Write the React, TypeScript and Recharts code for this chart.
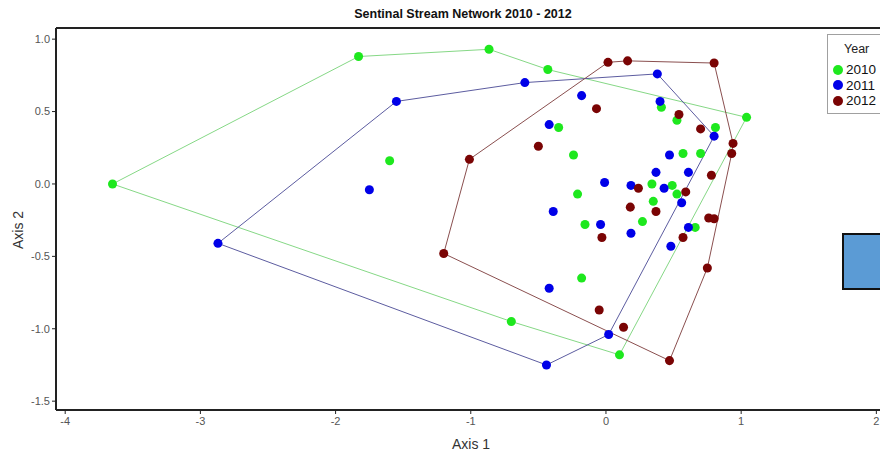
import React from 'react';
import { ScatterChart, Scatter, XAxis, YAxis, ZAxis, ReferenceLine } from 'recharts';

// NMS scores (Axis 1 / Axis 2), one pair of arrays per year
const years = ['2010', '2011', '2012'];

const axis1_2010 = [-3.65, -1.83, -0.865, -0.43, 1.04, -1.6, -0.35, -0.24, 0.41, 0.525, 0.81, 0.57, 0.7, 0.34, 0.49, 0.525, 0.35, -0.21, 0.27, -0.155, 0.66, -0.18, -0.7, 0.1];
const axis2_2010 = [0.0, 0.88, 0.93, 0.79, 0.46, 0.16, 0.39, 0.2, 0.53, 0.44, 0.39, 0.21, 0.21, 0.0, -0.01, -0.07, -0.12, -0.07, -0.26, -0.28, -0.3, -0.65, -0.95, -1.18];

const axis1_2011 = [-2.87, -1.55, -0.6, 0.38, 0.8, -1.75, -0.18, -0.42, 0.4, 0.47, 0.37, 0.61, -0.01, 0.185, 0.43, 0.56, -0.39, -0.04, 0.185, 0.61, 0.48, -0.42, 0.02, -0.44];
const axis2_2011 = [-0.41, 0.57, 0.7, 0.76, 0.33, -0.04, 0.61, 0.41, 0.57, 0.2, 0.08, 0.08, 0.01, -0.01, -0.03, -0.13, -0.19, -0.28, -0.34, -0.3, -0.43, -0.72, -1.04, -1.25];

const axis1_2012 = [-1.01, 0.015, 0.16, 0.8, 0.94, 0.93, 0.75, 0.47, -1.2, -0.07, -0.5, 0.54, 0.7, 0.78, 0.24, 0.59, 0.18, 0.37, -0.03, 0.76, 0.8, 0.57, -0.05, 0.13];
const axis2_2012 = [0.17, 0.84, 0.85, 0.835, 0.28, 0.21, -0.58, -1.22, -0.48, 0.52, 0.26, 0.48, 0.38, 0.06, -0.03, -0.055, -0.16, -0.19, -0.37, -0.235, -0.24, -0.37, -0.87, -0.99];

// convex hull vertices (indices into the arrays above), closed
const hull2010 = [0, 1, 2, 3, 4, 23, 22, 0];
const hull2011 = [0, 1, 2, 3, 4, 22, 23, 0];
const hull2012 = [0, 1, 2, 3, 4, 5, 6, 7, 8, 0];

const xTicks = [-4, -3, -2, -1, 0, 1, 2];
const yTicks = [1.0, 0.5, 0.0, -0.5, -1.0, -1.5];
const xDomain = [-4.068, 2.027];
const yDomain = [-1.561, 1.077];

const pointColors = ['#1ee81e', '#0000e8', '#7a0404'];
const hullColors = ['#86d886', '#5c5ca0', '#8a4f4f'];

const toPoints = (xs: number[], ys: number[]) => xs.map((x, i) => ({ x, y: ys[i] }));
const series = [
  { year: years[0], points: toPoints(axis1_2010, axis2_2010), hull: hull2010 },
  { year: years[1], points: toPoints(axis1_2011, axis2_2011), hull: hull2011 },
  { year: years[2], points: toPoints(axis1_2012, axis2_2012), hull: hull2012 },
];

const tickStyle = { fontSize: 11, fill: '#555', fontFamily: "'Liberation Sans Narrow', 'Liberation Sans', Arial, sans-serif" };

const YearLegend = () => (
  <div style={{ position: 'absolute', left: 827, top: 34, height: 80, background: '#fff', border: '1px solid #a0a0a0', padding: '7px 8px 0 5px', width: 70, boxSizing: 'border-box' }}>
    <div style={{ fontSize: 12.5, color: '#222', paddingLeft: 11, marginBottom: 5, lineHeight: '15px' }}>Year</div>
    {years.map((y, i) => (
      <div key={y} style={{ display: 'flex', alignItems: 'center', fontSize: 13.5, color: '#111', lineHeight: '15.5px' }}>
        <span style={{ width: 10, height: 10, borderRadius: '50%', background: pointColors[i], marginRight: 3, display: 'inline-block' }} />
        {y}
      </div>
    ))}
  </div>
);

export default function App() {
  return (
    <div style={{ position: 'absolute', left: 0, top: 0, width: 880, height: 455, overflow: 'hidden', background: '#fff', fontFamily: "'Liberation Sans', Arial, sans-serif" }}>
      <div style={{ position: 'absolute', left: 0, width: 926, top: 7, textAlign: 'center', fontSize: 12.5, fontWeight: 'bold', color: '#111' }}>
        Sentinal Stream Network 2010 - 2012
      </div>
      <ScatterChart width={880} height={455} margin={{ top: 28, right: 0, bottom: 0, left: 0 }}>
        <XAxis
          type="number"
          dataKey="x"
          domain={xDomain}
          ticks={xTicks}
          allowDataOverflow
          height={45}
          tickSize={4}
          tickMargin={3}
          tick={tickStyle}
          axisLine={{ stroke: '#222', strokeWidth: 2 }}
          tickLine={{ stroke: '#222' }}
        />
        <YAxis
          type="number"
          dataKey="y"
          domain={yDomain}
          ticks={yTicks}
          allowDataOverflow
          width={56}
          tickSize={4}
          tickMargin={2}
          tick={tickStyle}
          tickFormatter={(v: number) => v.toFixed(1)}
          axisLine={{ stroke: '#222', strokeWidth: 2 }}
          tickLine={{ stroke: '#222' }}
        />
        <ZAxis range={[80, 80]} />
        <ReferenceLine y={yDomain[1]} stroke="#222" strokeWidth={2} />
        {series.map((s, i) => (
          <Scatter
            key={'hull' + s.year}
            name={'hull' + s.year}
            data={s.hull.map(k => s.points[k])}
            line={{ stroke: hullColors[i], strokeWidth: 1 }}
            shape={() => <g />}
            legendType="none"
            isAnimationActive={false}
          />
        ))}
        {series.map((s, i) => (
          <Scatter
            key={s.year}
            name={s.year}
            data={s.points}
            fill={pointColors[i]}
            isAnimationActive={false}
          />
        ))}
      </ScatterChart>
      <YearLegend />
      <div style={{ position: 'absolute', left: 452, top: 436, fontSize: 14, color: '#333' }}>Axis 1</div>
      <div style={{ position: 'absolute', left: -4, top: 222, fontSize: 14, color: '#333', transform: 'rotate(-90deg)', width: 44, textAlign: 'center' }}>Axis 2</div>
      <div style={{ position: 'absolute', left: 842, top: 233, width: 60, height: 53, background: '#5b9bd5', border: '2px solid #111' }} />
    </div>
  );
}
